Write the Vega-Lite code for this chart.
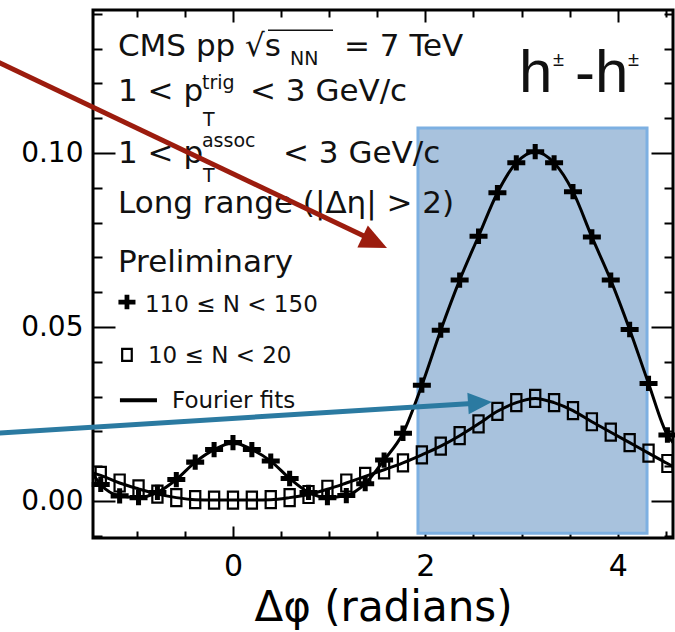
{
  "$schema": "https://vega.github.io/schema/vega-lite/v6.json",
  "width": 580,
  "height": 528,
  "autosize": "none",
  "padding": {"left": 93, "top": 10, "right": 2, "bottom": 94},
  "background": "white",
  "config": {
    "view": {"stroke": "black", "strokeWidth": 3},
    "axis": {"grid": false, "domain": false, "labelFont": "DejaVu Sans", "titleFont": "DejaVu Sans", "labelColor": "black", "titleColor": "black", "tickColor": "black"}
  },
  "resolve": {"axis": {"x": "independent", "y": "independent"}},
  "datasets": {
    "box": [{"x1": 1.923, "x2": 4.304, "y1": -0.0092, "y2": 0.1072}],
    "series": [
      {"series": "A", "x": -1.455, "y": 0.0077, "edge": true},
      {"series": "A", "x": -1.3744, "y": 0.0048},
      {"series": "A", "x": -1.1781, "y": 0.0015},
      {"series": "A", "x": -0.9817, "y": 0.0010},
      {"series": "A", "x": -0.7854, "y": 0.0025},
      {"series": "A", "x": -0.5890, "y": 0.0062},
      {"series": "A", "x": -0.3927, "y": 0.0112},
      {"series": "A", "x": -0.1963, "y": 0.0148},
      {"series": "A", "x": 0.0, "y": 0.0168},
      {"series": "A", "x": 0.1963, "y": 0.0148},
      {"series": "A", "x": 0.3927, "y": 0.0115},
      {"series": "A", "x": 0.5890, "y": 0.0065},
      {"series": "A", "x": 0.7854, "y": 0.0025},
      {"series": "A", "x": 0.9817, "y": 0.0010},
      {"series": "A", "x": 1.1781, "y": 0.0016},
      {"series": "A", "x": 1.3744, "y": 0.0050},
      {"series": "A", "x": 1.5708, "y": 0.0118},
      {"series": "A", "x": 1.7671, "y": 0.0195},
      {"series": "A", "x": 1.9635, "y": 0.0333},
      {"series": "A", "x": 2.1598, "y": 0.0491},
      {"series": "A", "x": 2.3562, "y": 0.0635},
      {"series": "A", "x": 2.5525, "y": 0.0761},
      {"series": "A", "x": 2.7489, "y": 0.0886},
      {"series": "A", "x": 2.9452, "y": 0.0972},
      {"series": "A", "x": 3.1416, "y": 0.1004},
      {"series": "A", "x": 3.3379, "y": 0.0972},
      {"series": "A", "x": 3.5343, "y": 0.0889},
      {"series": "A", "x": 3.7306, "y": 0.0759},
      {"series": "A", "x": 3.9270, "y": 0.0635},
      {"series": "A", "x": 4.1233, "y": 0.0493},
      {"series": "A", "x": 4.3197, "y": 0.0338},
      {"series": "A", "x": 4.5160, "y": 0.0190},
      {"series": "A", "x": 4.574, "y": 0.0168, "edge": true},
      {"series": "B", "x": -1.455, "y": 0.0081, "edge": true},
      {"series": "B", "x": -1.3744, "y": 0.0074},
      {"series": "B", "x": -1.1781, "y": 0.0052},
      {"series": "B", "x": -0.9817, "y": 0.0035},
      {"series": "B", "x": -0.7854, "y": 0.0020},
      {"series": "B", "x": -0.5890, "y": 0.0010},
      {"series": "B", "x": -0.3927, "y": 0.0004},
      {"series": "B", "x": -0.1963, "y": 0.0003},
      {"series": "B", "x": 0.0, "y": 0.0003},
      {"series": "B", "x": 0.1963, "y": 0.0003},
      {"series": "B", "x": 0.3927, "y": 0.0004},
      {"series": "B", "x": 0.5890, "y": 0.0010},
      {"series": "B", "x": 0.7854, "y": 0.0019},
      {"series": "B", "x": 0.9817, "y": 0.0034},
      {"series": "B", "x": 1.1781, "y": 0.0052},
      {"series": "B", "x": 1.3744, "y": 0.0071},
      {"series": "B", "x": 1.5708, "y": 0.0090},
      {"series": "B", "x": 1.7671, "y": 0.0110},
      {"series": "B", "x": 1.9635, "y": 0.0133},
      {"series": "B", "x": 2.1598, "y": 0.0158},
      {"series": "B", "x": 2.3562, "y": 0.0188},
      {"series": "B", "x": 2.5525, "y": 0.0222},
      {"series": "B", "x": 2.7489, "y": 0.0258},
      {"series": "B", "x": 2.9452, "y": 0.0283},
      {"series": "B", "x": 3.1416, "y": 0.0295},
      {"series": "B", "x": 3.3379, "y": 0.0283},
      {"series": "B", "x": 3.5343, "y": 0.0260},
      {"series": "B", "x": 3.7306, "y": 0.0228},
      {"series": "B", "x": 3.9270, "y": 0.0198},
      {"series": "B", "x": 4.1233, "y": 0.0168},
      {"series": "B", "x": 4.3197, "y": 0.0138},
      {"series": "B", "x": 4.5160, "y": 0.0108},
      {"series": "B", "x": 4.574, "y": 0.0100, "edge": true}
    ],
    "legendCross": [{"x": -1.102, "y": 0.0572}],
    "legendSquare": [{"x": -1.102, "y": 0.0420}],
    "legendLine": [{"x1": -1.175, "x2": -0.790, "y": 0.0290}],
    "redArrow": [{"x1": -2.505, "y1": 0.12695, "x2": 1.487, "y2": 0.07454}],
    "redHead": [{"x": 1.6008, "y": 0.0727}],
    "blueArrow": [{"x1": -2.505, "y1": 0.0194, "x2": 2.5676, "y2": 0.02822}],
    "blueHead": [{"x": 2.6923, "y": 0.02845}],
    "overline": [{"x1": 0.364, "x2": 1.04, "y": 0.1353}],
    "mainText": [
      {"t": "CMS pp √s", "x": -1.1954, "y": 0.12787},
      {"t": "= 7 TeV", "x": 1.1538, "y": 0.12787},
      {"t": "1 < p", "x": -1.1954, "y": 0.11494},
      {"t": "< 3 GeV/c", "x": 0.1767, "y": 0.11494},
      {"t": "1 < p", "x": -1.1954, "y": 0.09713},
      {"t": "< 3 GeV/c", "x": 0.5198, "y": 0.09713},
      {"t": "Long range (|Δη| > 2)", "x": -1.1954, "y": 0.08276},
      {"t": "Preliminary", "x": -1.1954, "y": 0.0658}
    ],
    "smallText": [
      {"t": "NN", "x": 0.5925, "y": 0.12529},
      {"t": "trig", "x": -0.3222, "y": 0.11839},
      {"t": "T", "x": -0.3119, "y": 0.10776},
      {"t": "assoc", "x": -0.3222, "y": 0.10172},
      {"t": "T", "x": -0.3119, "y": 0.09167}
    ],
    "legendText": [
      {"t": "110 ≤ N < 150", "x": -0.9148, "y": 0.05431},
      {"t": "10 ≤ N < 20", "x": -0.8836, "y": 0.03966},
      {"t": "Fourier fits", "x": -0.6341, "y": 0.02672}
    ],
    "bigText": [
      {"t": "h", "x": 2.973, "y": 0.11753},
      {"t": "-h", "x": 3.555, "y": 0.11753}
    ],
    "pmText": [
      {"t": "±", "x": 3.326, "y": 0.125},
      {"t": "±", "x": 4.106, "y": 0.125}
    ]
  },
  "layer": [
    {
      "data": {"name": "box"},
      "mark": {"type": "rect", "fill": "#a8c2dd", "stroke": "#7db0e2", "strokeWidth": 3},
      "encoding": {
        "x": {"field": "x1", "type": "quantitative", "scale": {"domain": [-1.455, 4.574], "nice": false, "zero": false},
              "axis": {"orient": "bottom", "values": [0, 2, 4], "format": "d", "ticks": false, "labelFontSize": 30, "labelPadding": 13, "title": "Δφ (radians)", "titleFontSize": 42, "titleFontWeight": "normal", "titlePadding": 6}},
        "x2": {"field": "x2"},
        "y": {"field": "y1", "type": "quantitative", "scale": {"domain": [-0.0106, 0.1411], "nice": false, "zero": false},
              "axis": {"orient": "left", "values": [0, 0.05, 0.1], "format": ".2f", "ticks": false, "labelFontSize": 28, "labelPadding": 10, "title": null}},
        "y2": {"field": "y2"}
      }
    },
    {
      "data": {"name": "series"},
      "mark": {"type": "line", "color": "black", "strokeWidth": 3, "interpolate": "monotone"},
      "encoding": {
        "x": {"field": "x", "type": "quantitative", "scale": {"domain": [-1.455, 4.574], "nice": false, "zero": false},
              "axis": {"orient": "top", "offset": -528, "values": [0, 2, 4], "tickSize": 12, "tickWidth": 2, "labels": false, "title": null}},
        "y": {"field": "y", "type": "quantitative", "scale": {"domain": [-0.0106, 0.1411], "nice": false, "zero": false},
              "axis": {"orient": "right", "offset": -580, "values": [0, 0.05, 0.1], "tickSize": 22, "tickWidth": 2, "labels": false, "title": null}},
        "detail": {"field": "series", "type": "nominal"}
      }
    },
    {
      "data": {"name": "series"},
      "transform": [{"filter": "datum.series == 'A' && !datum.edge"}],
      "mark": {"type": "point", "shape": "M-1,-0.28H-0.28V-0.85H0.28V-0.28H1V0.28H0.28V0.85H-0.28V0.28H-1Z", "filled": true, "color": "black", "size": 324, "opacity": 1},
      "encoding": {
        "x": {"field": "x", "type": "quantitative", "scale": {"domain": [-1.455, 4.574], "nice": false, "zero": false},
              "axis": {"orient": "top", "offset": -528, "values": [-1, -0.5, 0.5, 1, 1.5, 2.5, 3, 3.5, 4.5], "tickSize": 7, "tickWidth": 2, "labels": false, "title": null}},
        "y": {"field": "y", "type": "quantitative", "scale": {"domain": [-0.0106, 0.1411], "nice": false, "zero": false},
              "axis": {"orient": "right", "offset": -580, "values": [-0.01, 0.01, 0.02, 0.03, 0.04, 0.06, 0.07, 0.08, 0.09, 0.11, 0.12, 0.13, 0.14], "tickSize": 9, "tickWidth": 2, "labels": false, "title": null}}
      }
    },
    {
      "data": {"name": "series"},
      "transform": [{"filter": "datum.series == 'B' && !datum.edge"}],
      "mark": {"type": "point", "shape": "M-0.6,-1H0.6V1H-0.6Z", "filled": false, "color": "black", "strokeWidth": 2.2, "size": 289, "opacity": 1},
      "encoding": {
        "x": {"field": "x", "type": "quantitative", "scale": {"domain": [-1.455, 4.574], "nice": false, "zero": false},
              "axis": {"orient": "bottom", "offset": -528, "values": [0, 2, 4], "tickSize": 12, "tickWidth": 2, "labels": false, "title": null}},
        "y": {"field": "y", "type": "quantitative", "scale": {"domain": [-0.0106, 0.1411], "nice": false, "zero": false},
              "axis": {"orient": "left", "offset": -580, "values": [0, 0.05, 0.1], "tickSize": 22, "tickWidth": 2, "labels": false, "title": null}}
      }
    },
    {
      "data": {"name": "legendLine"},
      "mark": {"type": "rule", "color": "black", "strokeWidth": 4},
      "encoding": {
        "x": {"field": "x1", "type": "quantitative", "scale": {"domain": [-1.455, 4.574], "nice": false, "zero": false},
              "axis": {"orient": "bottom", "offset": -528, "values": [-1, -0.5, 0.5, 1, 1.5, 2.5, 3, 3.5, 4.5], "tickSize": 7, "tickWidth": 2, "labels": false, "title": null}},
        "x2": {"field": "x2"},
        "y": {"field": "y", "type": "quantitative", "scale": {"domain": [-0.0106, 0.1411], "nice": false, "zero": false},
              "axis": {"orient": "left", "offset": -580, "values": [-0.01, 0.01, 0.02, 0.03, 0.04, 0.06, 0.07, 0.08, 0.09, 0.11, 0.12, 0.13, 0.14], "tickSize": 9, "tickWidth": 2, "labels": false, "title": null}}
      }
    },
    {
      "data": {"name": "legendCross"},
      "mark": {"type": "point", "shape": "M-1,-0.28H-0.28V-0.85H0.28V-0.28H1V0.28H0.28V0.85H-0.28V0.28H-1Z", "filled": true, "color": "black", "size": 290, "opacity": 1},
      "encoding": {
        "x": {"field": "x", "type": "quantitative", "axis": null},
        "y": {"field": "y", "type": "quantitative", "axis": null}
      }
    },
    {
      "data": {"name": "legendSquare"},
      "mark": {"type": "point", "shape": "M-0.6,-0.75H0.6V0.75H-0.6Z", "filled": false, "color": "black", "strokeWidth": 2.2, "size": 256, "opacity": 1},
      "encoding": {
        "x": {"field": "x", "type": "quantitative", "axis": null},
        "y": {"field": "y", "type": "quantitative", "axis": null}
      }
    },
    {
      "data": {"name": "mainText"},
      "mark": {"type": "text", "font": "DejaVu Sans", "fontSize": 31, "align": "left", "baseline": "alphabetic", "color": "#111111"},
      "encoding": {
        "x": {"field": "x", "type": "quantitative", "axis": null},
        "y": {"field": "y", "type": "quantitative", "axis": null},
        "text": {"field": "t"}
      }
    },
    {
      "data": {"name": "smallText"},
      "mark": {"type": "text", "font": "DejaVu Sans", "fontSize": 19, "align": "left", "baseline": "alphabetic", "color": "#111111"},
      "encoding": {
        "x": {"field": "x", "type": "quantitative", "axis": null},
        "y": {"field": "y", "type": "quantitative", "axis": null},
        "text": {"field": "t"}
      }
    },
    {
      "data": {"name": "overline"},
      "mark": {"type": "rule", "color": "#111111", "strokeWidth": 1.5},
      "encoding": {
        "x": {"field": "x1", "type": "quantitative", "axis": null},
        "x2": {"field": "x2"},
        "y": {"field": "y", "type": "quantitative", "axis": null}
      }
    },
    {
      "data": {"name": "legendText"},
      "mark": {"type": "text", "font": "DejaVu Sans", "fontSize": 23, "align": "left", "baseline": "alphabetic", "color": "#111111"},
      "encoding": {
        "x": {"field": "x", "type": "quantitative", "axis": null},
        "y": {"field": "y", "type": "quantitative", "axis": null},
        "text": {"field": "t"}
      }
    },
    {
      "data": {"name": "bigText"},
      "mark": {"type": "text", "font": "Liberation Sans", "fontSize": 60, "align": "left", "baseline": "alphabetic", "color": "#111111"},
      "encoding": {
        "x": {"field": "x", "type": "quantitative", "axis": null},
        "y": {"field": "y", "type": "quantitative", "axis": null},
        "text": {"field": "t"}
      }
    },
    {
      "data": {"name": "pmText"},
      "mark": {"type": "text", "font": "Liberation Sans", "fontSize": 20, "align": "left", "baseline": "alphabetic", "color": "#111111"},
      "encoding": {
        "x": {"field": "x", "type": "quantitative", "axis": null},
        "y": {"field": "y", "type": "quantitative", "axis": null},
        "text": {"field": "t"}
      }
    },
    {
      "data": {"name": "redArrow"},
      "mark": {"type": "rule", "color": "#9c1c0e", "strokeWidth": 5},
      "encoding": {
        "x": {"field": "x1", "type": "quantitative", "axis": null},
        "y": {"field": "y1", "type": "quantitative", "axis": null},
        "x2": {"field": "x2"},
        "y2": {"field": "y2"}
      }
    },
    {
      "data": {"name": "redHead"},
      "mark": {"type": "point", "shape": "M0,0L-1,-0.45L-1,0.45Z", "filled": true, "color": "#9c1c0e", "size": 2916, "angle": 25.5, "opacity": 1},
      "encoding": {
        "x": {"field": "x", "type": "quantitative", "axis": null},
        "y": {"field": "y", "type": "quantitative", "axis": null}
      }
    },
    {
      "data": {"name": "blueArrow"},
      "mark": {"type": "rule", "color": "#2b7aa1", "strokeWidth": 5},
      "encoding": {
        "x": {"field": "x1", "type": "quantitative", "axis": null},
        "y": {"field": "y1", "type": "quantitative", "axis": null},
        "x2": {"field": "x2"},
        "y2": {"field": "y2"}
      }
    },
    {
      "data": {"name": "blueHead"},
      "mark": {"type": "point", "shape": "M0,0L-1,-0.45L-1,0.45Z", "filled": true, "color": "#2b7aa1", "size": 2304, "angle": 356.4, "opacity": 1},
      "encoding": {
        "x": {"field": "x", "type": "quantitative", "axis": null},
        "y": {"field": "y", "type": "quantitative", "axis": null}
      }
    }
  ]
}
